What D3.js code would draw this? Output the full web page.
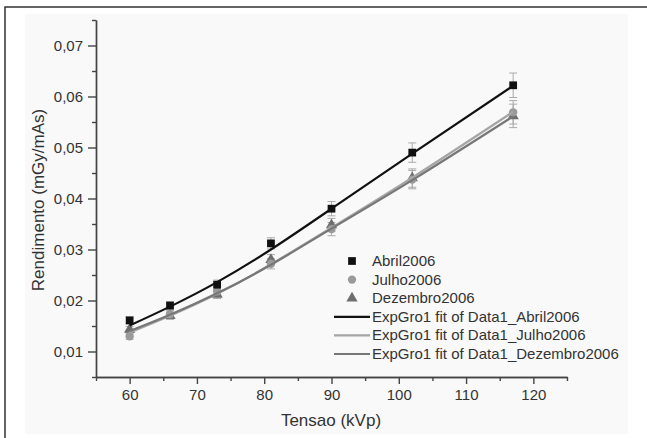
<!DOCTYPE html>
<html>
<head>
<meta charset="utf-8">
<script src="https://cdn.jsdelivr.net/npm/d3@7"></script>
<style>
  body { margin: 0; background: #fff; }
  svg { display: block; font-family: Arial, "Liberation Sans", sans-serif; }
</style>
</head>
<body>
<script>
// tensao values (kVp)
var kvp = [60, 66, 73, 81, 90, 102, 117];

// measured rendimento (mGy/mAs)
var abril = [0.0161, 0.0190, 0.0231, 0.0312, 0.0380, 0.0490, 0.0622];
var julho = [0.0130, 0.0173, 0.0218, 0.0272, 0.0340, 0.0437, 0.0569];
var dezembro = [0.0143, 0.0170, 0.0212, 0.0280, 0.0348, 0.0440, 0.0562];

// error bars (half widths)
var errAbril = [0.0007, 0.0008, 0.0009, 0.0011, 0.0014, 0.0019, 0.0024];
var errJulho = [0.0006, 0.0007, 0.0008, 0.0010, 0.0013, 0.0018, 0.0023];
var errDezembro = [0.0006, 0.0007, 0.0008, 0.0010, 0.0013, 0.0018, 0.0023];

// ExpGro1 fitted values read at the same kVp
var fitAbril = [0.0151, 0.0188, 0.0236, 0.0300, 0.0380, 0.0488, 0.0621];
var fitJulho = [0.0137, 0.0170, 0.0213, 0.0271, 0.0343, 0.0441, 0.0570];
var fitDezembro = [0.0140, 0.0172, 0.0214, 0.0270, 0.0341, 0.0436, 0.0561];

var xTicks = [60, 70, 80, 90, 100, 110, 120];
var xMinor = [55, 65, 75, 85, 95, 105, 115, 125];
var yTicks = [0.01, 0.02, 0.03, 0.04, 0.05, 0.06, 0.07];
var yMinor = [0.005, 0.015, 0.025, 0.035, 0.045, 0.055, 0.065, 0.075];

var legendLabels = ["Abril2006", "Julho2006", "Dezembro2006",
  "ExpGro1 fit of Data1_Abril2006", "ExpGro1 fit of Data1_Julho2006", "ExpGro1 fit of Data1_Dezembro2006"];

window.onload = function(){

    var w = 647, h = 438;
    var svg = d3.select("body").append("svg")
        .attr("width", w)
        .attr("height", h);

    // page frame (scanned figure)
    svg.append("rect").attr("x", 25).attr("y", 14).attr("width", 603).attr("height", 420).attr("fill", "#f9f9f9");
    svg.append("path").attr("d", "M5,438 V7 H647").attr("fill", "none").attr("stroke", "#333").attr("stroke-width", 1.5);

    var x = d3.scaleLinear().domain([55, 125]).range([96, 567]);
    var y = d3.scaleLinear().domain([0.005, 0.075]).range([377, 20]);

    var pt = d3.formatLocale({decimal: ",", thousands: ".", grouping: [3], currency: ["", ""]});
    var fmt = pt.format(".2f");

    // axes
    var gx = svg.append("g").attr("transform", "translate(0,377)");
    gx.call(d3.axisBottom(x).tickValues(xTicks).tickSize(7).tickPadding(5).tickSizeOuter(0));
    var gxm = svg.append("g").attr("transform", "translate(0,377)");
    gxm.call(d3.axisBottom(x).tickValues(xMinor).tickSize(4).tickFormat("").tickSizeOuter(0));

    var gy = svg.append("g").attr("transform", "translate(96,0)");
    gy.call(d3.axisLeft(y).tickValues(yTicks).tickSize(8).tickPadding(5).tickFormat(fmt).tickSizeOuter(0));
    var gym = svg.append("g").attr("transform", "translate(96,0)");
    gym.call(d3.axisLeft(y).tickValues(yMinor).tickSize(4).tickFormat("").tickSizeOuter(0));

    svg.selectAll(".domain, .tick line").attr("stroke", "#444").attr("stroke-width", 1.4);
    svg.selectAll(".tick text").attr("fill", "#333").style("font-size", "15px");

    svg.append("text").attr("x", 331).attr("y", 426).attr("text-anchor", "middle")
        .attr("fill", "#333").style("font-size", "17px").text("Tensao (kVp)");
    svg.append("text").attr("transform", "translate(44,200) rotate(-90)").attr("text-anchor", "middle")
        .attr("fill", "#333").style("font-size", "17px").text("Rendimento (mGy/mAs)");

    var series = [
        {vals: abril, err: errAbril, fit: fitAbril, color: "#111", line: "#111", shape: d3.symbolSquare, size: 60},
        {vals: julho, err: errJulho, fit: fitJulho, color: "#9a9a9a", line: "#a5a5a5", shape: d3.symbolCircle, size: 55},
        {vals: dezembro, err: errDezembro, fit: fitDezembro, color: "#6e6e6e", line: "#777", shape: d3.symbolTriangle, size: 55}
    ];

    var line = d3.line()
        .x(function(d, i){ return x(kvp[i]); })
        .y(function(d){ return y(d); })
        .curve(d3.curveNatural);

    // error bars
    series.forEach(function(s){
        var g = svg.append("g");
        kvp.forEach(function(k, i){
            var cx = x(k), top = y(s.vals[i] + s.err[i]), bot = y(s.vals[i] - s.err[i]);
            g.append("line").attr("x1", cx).attr("x2", cx).attr("y1", top).attr("y2", bot)
                .attr("stroke", "#aaa").attr("stroke-width", 1);
            [top, bot].forEach(function(yy){
                g.append("line").attr("x1", cx - 4).attr("x2", cx + 4).attr("y1", yy).attr("y2", yy)
                    .attr("stroke", "#aaa").attr("stroke-width", 1);
            });
        });
    });

    // markers
    series.slice().reverse().forEach(function(s){
        svg.append("g").selectAll("path")
            .data(s.vals)
            .enter().append("path")
            .attr("transform", function(d, i){ return "translate(" + x(kvp[i]) + "," + y(d) + ")"; })
            .attr("d", d3.symbol().type(s.shape).size(s.size))
            .attr("fill", s.color);
    });

    // fit curves
    [series[1], series[2], series[0]].forEach(function(s){
        svg.append("path").datum(s.fit)
            .attr("d", line)
            .attr("fill", "none")
            .attr("stroke", s.line)
            .attr("stroke-width", 2.2);
    });

    // legend
    var lg = svg.append("g");
    legendLabels.forEach(function(t, i){
        var yy = 261 + i * 18.6;
        if (i < 3) {
            lg.append("path").attr("transform", "translate(352," + yy + ")")
                .attr("d", d3.symbol().type(series[i].shape).size(series[i].size))
                .attr("fill", series[i].color);
        } else {
            lg.append("line").attr("x1", 334).attr("x2", 370).attr("y1", yy).attr("y2", yy)
                .attr("stroke", series[i - 3].line).attr("stroke-width", 2.2);
        }
        lg.append("text").attr("x", 372).attr("y", yy + 5)
            .attr("fill", "#333").style("font-size", "15px").text(t);
    });
}
</script>
</body>
</html>
